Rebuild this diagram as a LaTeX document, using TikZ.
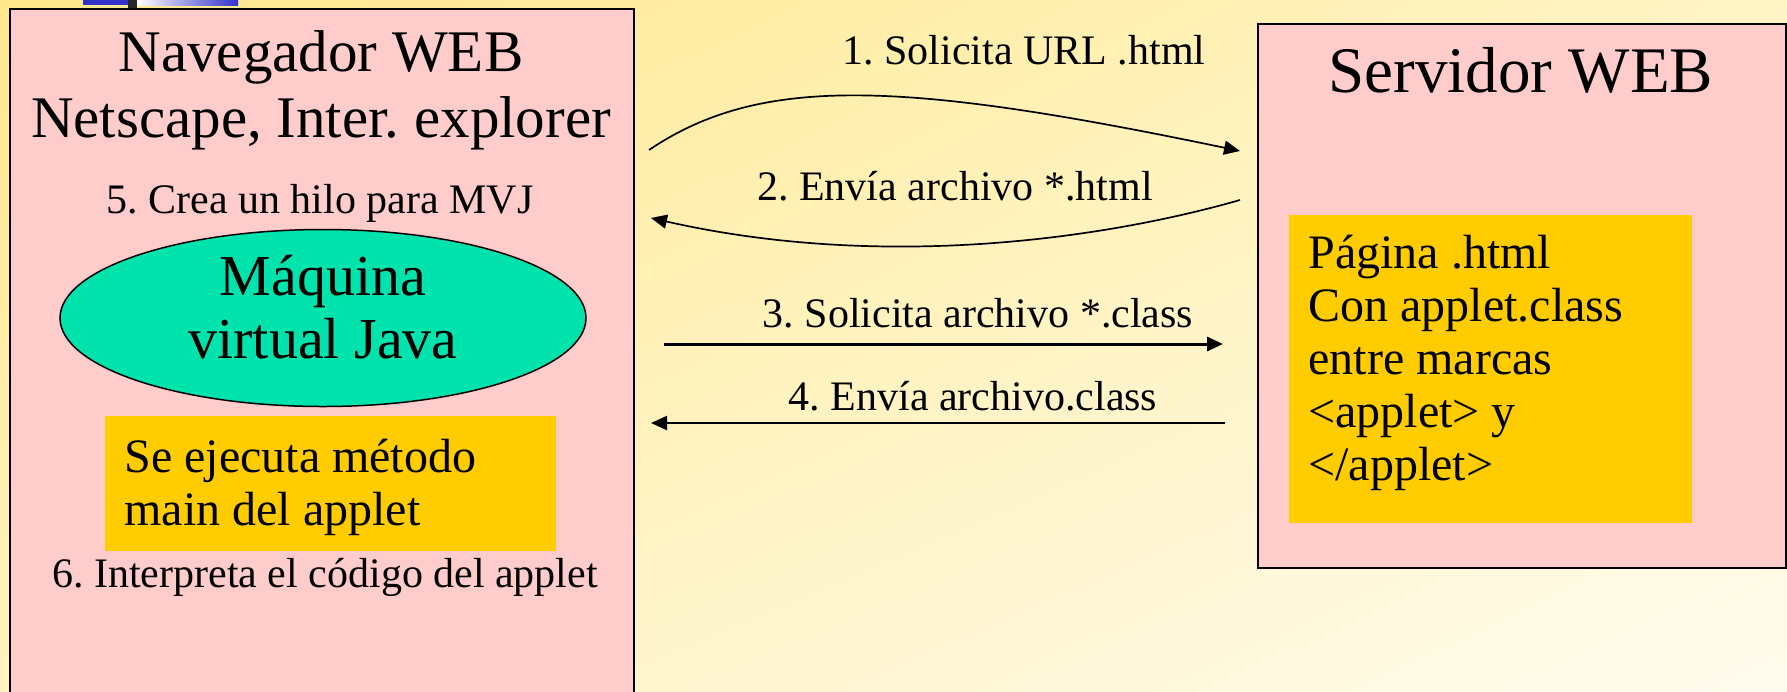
\documentclass[tikz,border=0pt]{standalone}
\usepackage{fontspec}
\setmainfont{Liberation Serif}
\usetikzlibrary{arrows.meta,shapes.geometric,shadings}
\frenchspacing

\definecolor{pinkbox}{HTML}{FFCCCC}
\definecolor{goldbox}{HTML}{FFCC00}
\definecolor{jvmgreen}{HTML}{00E3AD}
\definecolor{bgTL}{HTML}{FFE88C}
\definecolor{bgTR}{HTML}{FFF4C6}
\definecolor{bgBL}{HTML}{FFF2BE}
\definecolor{bgBR}{HTML}{FFFCEE}
\definecolor{barblue}{HTML}{3333CC}

\begin{document}
\begin{tikzpicture}[x=0.5pt,y=-0.5pt,
  panel/.style={draw=black,line width=1pt,fill=pinkbox,inner sep=0pt,anchor=north west},
  goldpanel/.style={fill=goldbox,inner sep=0pt,anchor=north west},
  jvm/.style={ellipse,draw=black,line width=0.75pt,fill=jvmgreen,inner sep=0pt,
    minimum width=263pt,minimum height=88.5pt},
  bigtitle/.style={font=\fontsize{29.5}{33}\selectfont,inner sep=0pt,anchor=base},
  srvtitle/.style={font=\fontsize{32.5}{36}\selectfont,inner sep=0pt,anchor=base},
  jvmtext/.style={font=\fontsize{29}{31.5}\selectfont,inner sep=0pt,anchor=base},
  steptext/.style={font=\fontsize{21}{24}\selectfont,inner sep=0pt,anchor=base},
  goldtext/.style={font=\fontsize{24}{26.5}\selectfont,inner sep=0pt,anchor=base west},
  msg/.style={draw=black,line width=0.85pt,-{Triangle[length=8pt,width=7pt]}},
  msgthick/.style={msg,line width=1.5pt}]

\useasboundingbox (0,0) rectangle (1787,691);

% slide background
\shade[upper left=bgTL,upper right=bgTR,lower left=bgBL,lower right=bgBR]
  (0,0) rectangle (1787,691);

% remnant of the title bar at the top edge
\fill[barblue] (83,0) rectangle (128,5);
\fill[black!85] (128,0) rectangle (137,8);
\shade[left color=white,right color=barblue] (137,0) rectangle (238,5);

\begin{scope}
\clip (0,0) rectangle (1787,691);

% browser panel
\node[panel,minimum width=312pt,minimum height=360pt] (browser) at (9,8) {};
\node[bigtitle] (brt1) at (321,71) {Navegador WEB};
\node[bigtitle] (brt2) at (321,137) {Netscape, Inter. explorer};
\node[steptext] (s5) at (320,213) {5. Crea un hilo para MVJ};
\node[jvm] (jvm) at (323,318) {};
\node[jvmtext] (jvm1) at (323,295) {Máquina};
\node[jvmtext] (jvm2) at (323,358) {virtual Java};
\node[goldpanel,minimum width=225.5pt,minimum height=67.5pt] (exec) at (105,416) {};
\node[goldtext] (exec1) at (124,472) {Se ejecuta método};
\node[goldtext] (exec2) at (124,525) {main del applet};
\node[steptext] (s6) at (325,587) {6. Interpreta el código del applet};

% server panel
\node[panel,minimum width=264pt,minimum height=272pt] (server) at (1257,23) {};
\node[srvtitle] (srvt) at (1521,92) {Servidor WEB};
\node[goldpanel,minimum width=201.5pt,minimum height=154pt] (page) at (1289,215) {};
\node[goldtext] (pg1) at (1308,268) {Página .html};
\node[goldtext] (pg2) at (1308,321) {Con applet.class};
\node[goldtext] (pg3) at (1308,374) {entre marcas};
\node[goldtext] (pg4) at (1308,427) {<applet> y};
\node[goldtext] (pg5) at (1308,480) {</applet>};
\end{scope}

% message end points
\coordinate (m1s) at (649,150);
\coordinate (m1e) at (1240,151);
\coordinate (m2s) at (1240,200);
\coordinate (m2e) at (651,218);
\coordinate (m3s) at (664,344);
\coordinate (m3e) at (1223,344);
\coordinate (m4s) at (1225,423);
\coordinate (m4e) at (651,423);

% messages between browser and server
\draw[msg] (m1s) .. controls (760,75) and (900,80) .. (m1e);
\node[steptext] (l1) at (1024,64) {1. Solicita URL .html};

\draw[msg] (m2s) .. controls (1100,240) and (880,270) .. (m2e);
\node[steptext] (l2) at (955,200) {2. Envía archivo *.html};

\draw[msgthick] (m3s) -- (m3e);
\node[steptext] (l3) at (978,327) {3. Solicita archivo *.class};

\draw[msg,line width=1pt] (m4s) -- (m4e);
\node[steptext] (l4) at (973,410) {4. Envía archivo.class};

\end{tikzpicture}
\end{document}
